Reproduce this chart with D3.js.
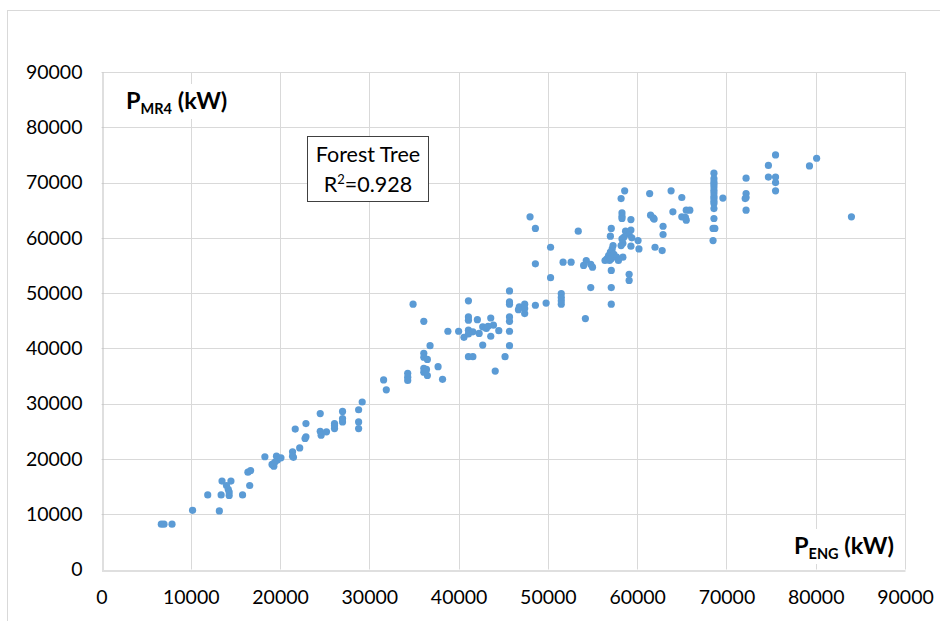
<!DOCTYPE html>
<html>
<head>
<meta charset="utf-8">
<script src="https://cdn.jsdelivr.net/npm/d3@7"></script>
<style>
  html, body { margin: 0; padding: 0; background: #fff; }
  svg { display: block; font-family: Lato, "Open Sans", sans-serif; }
</style>
</head>
<body>
<svg id="chart" width="940" height="621"></svg>
<script>
// Engine power (x) against MR4 power (y), both in kW
const pEng = [
  6700, 7000, 7900, 10200, 13200, 11900, 13400, 14300, 13500, 14500,
  14000, 14200, 14300, 15800, 16600, 16400, 16700, 18300, 19100, 19300,
  19600, 19700, 20100, 19400, 21400, 21400, 21500, 21700, 22200, 22900,
  22900, 22800, 24500, 24600, 25200, 26100, 26100, 26100, 27000, 27000,
  27000, 28800, 28800, 28800, 24500, 29200,
  31600, 31900, 34300, 34300, 34300, 34900, 36100, 36100, 36100, 36500,
  36100, 36400, 36100, 36500, 36800, 37700, 38200, 38800, 36300,
  40000, 40600, 41100, 41100, 41100, 41100, 41100, 41600, 41100, 41600,
  42100, 42300, 42700, 43100, 43600, 43900, 42700, 43600, 44100, 44500,
  45200, 45700, 45700, 45700, 45700, 45700, 45700, 45700, 43300,
  46800, 47400, 47400, 48600, 47400, 46700, 48000, 48600, 50300, 48600,
  50300, 51700, 52600, 53400, 49800, 51500, 51500, 51500, 51500,
  54300, 54000, 54800, 55000, 54800, 54200,
  57100, 57000, 57300, 57200, 57000, 56800, 56600, 56400, 56900, 57100,
  57400, 57700, 58400, 57900, 57100, 57100, 57100, 58200, 58600, 58300,
  58300, 58300, 59300, 59300, 58700, 59100, 58500, 58300, 58400, 59400,
  60100, 59300, 60200, 59100, 59100, 58200,
  61400, 61500, 61800, 61900, 62000, 62900, 62900, 62800, 63800, 64000,
  65000, 65000, 65400, 65500, 65500, 65900,
  68600, 68600, 68600, 68600, 68600, 68600, 68600, 68600, 68600, 68600,
  68600, 68600, 68600, 68500, 68700, 68500, 69600,
  72200, 72200, 72200, 72100, 72200,
  74700, 75500, 74700, 75500, 75500, 75500,
  79300, 80100, 84000
];
const pMr4 = [
  8200, 8200, 8200, 10700, 10600, 13500, 13500, 13400, 16000, 16000,
  15200, 14500, 14000, 13500, 15200, 17600, 17900, 20400, 19000, 18700,
  20500, 19800, 20200, 19400, 21300, 20500, 20300, 25400, 22000, 26400,
  24000, 23700, 25000, 24300, 24900, 26400, 25500, 26000, 26700, 27300,
  28600, 28900, 26700, 25500, 28200, 30300,
  34300, 32500, 35500, 34800, 34200, 48000, 44900, 39100, 38400, 38000,
  36400, 36200, 35700, 35100, 40500, 36700, 34400, 43100, 35800,
  43100, 42000, 48600, 45700, 45100, 43300, 42600, 43000, 38500, 38500,
  45200, 42700, 43900, 43600, 45500, 44200, 40600, 42200, 35900, 43200,
  38500, 50400, 48400, 48000, 45700, 44900, 43100, 40500, 44000,
  47500, 48000, 46300, 47800, 47200, 47000, 63800, 61700, 58300, 55300,
  52800, 55600, 55600, 61200, 48200, 49900, 49200, 48600, 48000,
  55900, 55000, 55200, 54700, 51000, 45400,
  61700, 60300, 58600, 58000, 57400, 56800, 56200, 55900, 55900, 56200,
  57000, 56500, 56500, 55900, 54100, 51000, 48000, 67100, 68500, 64500,
  63900, 63500, 63300, 61400, 61200, 60600, 60100, 59800, 59000, 60000,
  59500, 58500, 58000, 53400, 52300, 58600,
  68000, 64100, 63600, 63400, 58300, 62100, 60600, 57700, 68500, 64700,
  67300, 63800, 63700, 63200, 65000, 65000,
  71700, 70700, 70100, 69700, 69200, 68600, 68100, 67500, 67100, 66600,
  66200, 65300, 63500, 61700, 61700, 59500, 67200,
  70800, 68000, 67300, 67100, 65000,
  73100, 75000, 71000, 71000, 70000, 68500,
  73000, 74400, 63800
];
const xTicks = [0, 10000, 20000, 30000, 40000, 50000, 60000, 70000, 80000, 90000];
const yTicks = [0, 10000, 20000, 30000, 40000, 50000, 60000, 70000, 80000, 90000];
const modelName = "Forest Tree";
const rSquared = "0.928";

const points = pEng.map((v, i) => ({ x: v, y: pMr4[i] }));

const svg = d3.select("#chart");
const plot = { left: 101.5, right: 905, top: 72, bottom: 569.5 };

const x = d3.scaleLinear().domain([0, 90000]).range([plot.left, plot.right]);
const y = d3.scaleLinear().domain([0, 90000]).range([plot.bottom, plot.top]);

// chart area frame
svg.append("rect")
  .attr("x", 7.5).attr("y", 10.5)
  .attr("width", 1000).attr("height", 1000)
  .attr("fill", "#fff").attr("stroke", "#d9d9d9");

// gridlines
const grid = svg.append("g");
grid.selectAll("line.v").data(xTicks.filter(d => d > 0)).join("line")
  .attr("x1", d => Math.round(x(d)) + 0.5).attr("x2", d => Math.round(x(d)) + 0.5)
  .attr("y1", plot.top).attr("y2", plot.bottom)
  .attr("stroke", "#d9d9d9").attr("stroke-width", 1);
grid.selectAll("line.h").data(yTicks.filter(d => d > 0)).join("line")
  .attr("x1", plot.left).attr("x2", plot.right)
  .attr("y1", d => Math.round(y(d)) + 0.5).attr("y2", d => Math.round(y(d)) + 0.5)
  .attr("stroke", "#d9d9d9").attr("stroke-width", 1);

// axes
const xAxis = d3.axisBottom(x).tickValues(xTicks).tickSize(0).tickPadding(20)
  .tickFormat(d3.format("d"));
const yAxis = d3.axisLeft(y).tickValues(yTicks).tickSize(0).tickPadding(20)
  .tickFormat(d3.format("d"));

const gx = svg.append("g").attr("transform", `translate(0,${Math.round(plot.bottom) + 0.5})`).call(xAxis);
const gy = svg.append("g").attr("transform", `translate(${Math.round(plot.left) + 0.5},0)`).call(yAxis);
[gx, gy].forEach(g => {
  g.select(".domain").attr("stroke", "#bfbfbf");
  g.selectAll("text").attr("font-family", "Lato, sans-serif")
    .attr("font-size", "19.5px").attr("fill", "#000");
});

// axis titles with white backing
function axisTitle(xPos, yPos, main, sub, rest) {
  const g = svg.append("g");
  const t = g.append("text")
    .attr("x", xPos).attr("y", yPos)
    .attr("font-family", "Lato, sans-serif").attr("font-weight", "bold")
    .attr("font-size", "23.5px").attr("fill", "#000");
  t.append("tspan").text(main);
  t.append("tspan").attr("font-size", "14.5px").attr("dy", 5).text(sub);
  t.append("tspan").attr("dy", -5).text(rest);
  const bb = t.node().getBBox();
  g.insert("rect", "text")
    .attr("x", bb.x - 6).attr("y", bb.y - 2)
    .attr("width", bb.width + 12).attr("height", bb.height + 4)
    .attr("fill", "#fff");
  return g;
}
axisTitle(126, 109, "P", "MR4", " (kW)");
axisTitle(794, 554, "P", "ENG", " (kW)");

// points
svg.append("g").selectAll("circle").data(points).join("circle")
  .attr("cx", d => x(d.x)).attr("cy", d => y(d.y)).attr("r", 3.6)
  .attr("fill", "#5b9bd5");

// annotation box
const box = svg.append("g");
box.append("rect")
  .attr("x", 307.5).attr("y", 136.5).attr("width", 121).attr("height", 65)
  .attr("fill", "#fff").attr("stroke", "#404040").attr("stroke-width", 1);
const boxText = box.append("g")
  .attr("font-family", "Lato, sans-serif").attr("font-size", "21.5px").attr("fill", "#000")
  .attr("text-anchor", "middle");
boxText.append("text").attr("x", 368).attr("y", 162).text(modelName);
const r2 = boxText.append("text").attr("x", 368).attr("y", 192);
r2.append("tspan").text("R");
r2.append("tspan").attr("font-size", "13px").attr("dy", -8).text("2");
r2.append("tspan").attr("dy", 8).text("=" + rSquared);
</script>
</body>
</html>
